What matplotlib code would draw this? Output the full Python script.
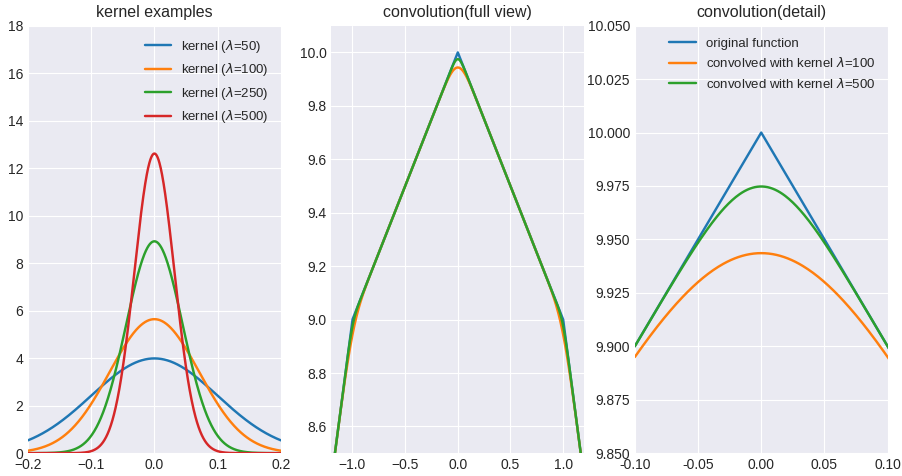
import numpy as np
import matplotlib
matplotlib.use("Agg")
import matplotlib.pyplot as plt
from matplotlib.ticker import FormatStrFormatter

# kernel widths shown on the left panel
kernel_lambdas = [50, 100, 250, 500]
# kernel widths used for the convolutions
conv_lambdas = [100, 500]
# corners of the piecewise linear test function
knot_x = [-2.0, -1.0, 0.0, 1.0, 2.0]
knot_y = [6.0, 9.0, 10.0, 9.0, 6.0]


def kernel(x, lam):
    return np.sqrt(lam / np.pi) * np.exp(-lam * x ** 2)


plt.style.use("seaborn-v0_8-darkgrid")
plt.rcParams["font.family"] = ["Liberation Sans", "DejaVu Sans"]
plt.rcParams["lines.linewidth"] = 1.75

fig, axes = plt.subplots(1, 3, figsize=(9.03, 4.76), dpi=100)
fig.subplots_adjust(left=0.031, right=0.983, bottom=0.048, top=0.946, wspace=0.2)

# kernels
ax = axes[0]
xk = np.linspace(-0.2, 0.2, 801)
for lam in kernel_lambdas:
    ax.plot(xk, kernel(xk, lam), label=r"kernel ($\lambda$=%d)" % lam)
ax.set_xlim(-0.2, 0.2)
ax.set_ylim(0, 18)
ax.set_yticks(np.arange(0, 19, 2))
ax.set_xticks([-0.2, -0.1, 0.0, 0.1, 0.2])
ax.set_title("kernel examples", fontsize=11.5)
ax.legend(loc="upper right", fontsize=9.5)

# original function and its convolutions
dx = 0.001
x = np.arange(-2.0, 2.0 + dx / 2, dx)
f = np.interp(x, knot_x, knot_y)
xs = np.arange(-1.0, 1.0 + dx / 2, dx)
curves = [("original function", f)]
for lam in conv_lambdas:
    g = np.convolve(f, kernel(xs, lam), mode="same") * dx
    curves.append((r"convolved with kernel $\lambda$=%d" % lam, g))

inner = np.abs(x) <= 1.5
for ax in axes[1:]:
    for label, y in curves:
        ax.plot(x[inner], y[inner], label=label)

ax = axes[1]
ax.set_xlim(-1.2, 1.2)
ax.set_ylim(8.5, 10.1)
ax.set_xticks([-1.0, -0.5, 0.0, 0.5, 1.0])
ax.set_yticks(np.arange(8.6, 10.01, 0.2))
ax.yaxis.set_major_formatter(FormatStrFormatter("%.1f"))
ax.set_title("convolution(full view)", fontsize=11.5)

ax = axes[2]
ax.set_xlim(-0.1, 0.1)
ax.set_ylim(9.85, 10.05)
ax.set_xticks([-0.10, -0.05, 0.0, 0.05, 0.10])
ax.xaxis.set_major_formatter(FormatStrFormatter("%.2f"))
ax.set_yticks(np.arange(9.85, 10.051, 0.025))
ax.yaxis.set_major_formatter(FormatStrFormatter("%.3f"))
ax.set_title("convolution(detail)", fontsize=11.5)
ax.legend(loc="upper right", fontsize=9.5)

for ax in axes:
    ax.tick_params(labelsize=10)

fig.savefig("out.png")
